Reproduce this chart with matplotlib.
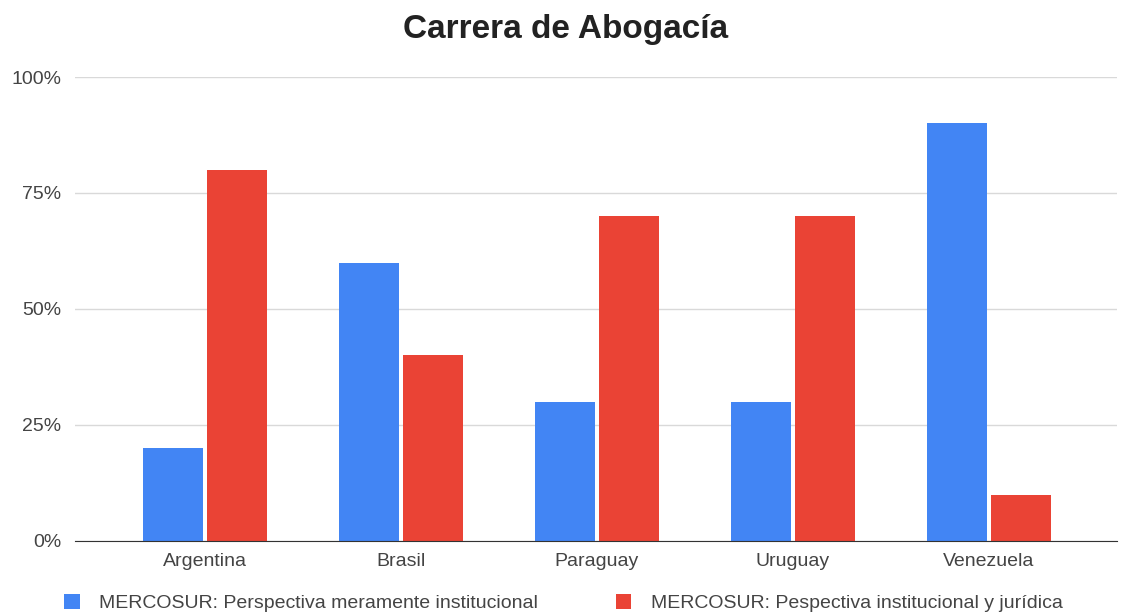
import matplotlib.pyplot as plt
import numpy as np
from matplotlib.ticker import FuncFormatter

plt.rcParams['font.family'] = ['Liberation Sans', 'DejaVu Sans']

paises = ["Argentina", "Brasil", "Paraguay", "Uruguay", "Venezuela"]
institucional = [0.20, 0.60, 0.30, 0.30, 0.90]
juridica = [0.80, 0.40, 0.70, 0.70, 0.10]
series_names = ["MERCOSUR: Perspectiva meramente institucional",
                "MERCOSUR: Pespectiva institucional y jurídica"]

azul = "#4285F4"
rojo = "#EA4335"

fig = plt.figure(figsize=(11.27, 6.16), dpi=100)
ax = fig.add_axes([0.0665, 0.1218, 0.9245, 0.7532])

x = np.arange(len(paises))
w = 0.305
ax.bar(x - 0.163, institucional, w, color=azul, label=series_names[0], zorder=3)
ax.bar(x + 0.163, juridica, w, color=rojo, label=series_names[1], zorder=3)

ax.set_xlim(-0.663, 4.653)
ax.set_ylim(0, 1)
ax.set_yticks([0, 0.25, 0.5, 0.75, 1.0])
ax.yaxis.set_major_formatter(FuncFormatter(lambda v, p: "%d%%" % round(v * 100)))
ax.grid(axis="y", color="#d9d9d9", linewidth=1, zorder=0)
ax.set_xticks(x)
ax.set_xticklabels(paises)
ax.tick_params(axis="both", length=0, labelsize=14, labelcolor="#444444")
ax.tick_params(axis="y", pad=10)
ax.tick_params(axis="x", pad=9)
for s in ["top", "right", "left"]:
    ax.spines[s].set_visible(False)
ax.spines["bottom"].set_color("#333333")
ax.spines["bottom"].set_zorder(4)

fig.text(0.502, 0.952, "Carrera de Abogacía", ha="center", va="center",
         fontsize=24, fontweight="bold", color="#222222")

fig.legend(loc="center", bbox_to_anchor=(0.5, 0.021), ncol=2, frameon=False,
           fontsize=14, labelcolor="#444444", handlelength=0.8, handleheight=0.8,
           handletextpad=1.0, columnspacing=4.0)

fig.savefig("out.png", dpi=100, facecolor="white")
